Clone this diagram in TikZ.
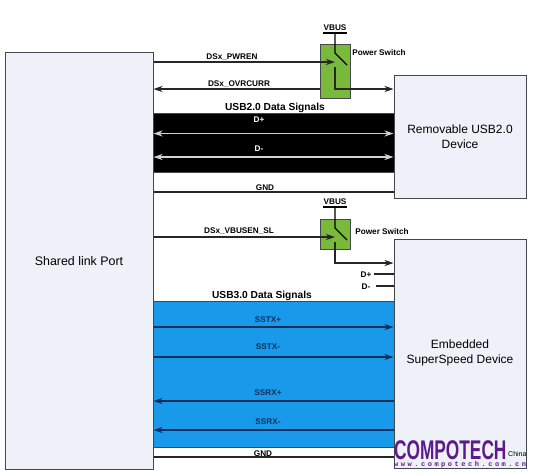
\documentclass[tikz,border=0pt]{standalone}
\usepackage{fontspec}
\setmainfont{Liberation Sans}
\newfontfamily\webfont[LetterSpace=36,BoldFont={Liberation Mono Bold}]{Liberation Mono}
\usetikzlibrary{positioning,arrows.meta,calc}
\definecolor{boxfill}{HTML}{EEF1F8}
\definecolor{boxline}{HTML}{44484C}
\definecolor{swgreen}{HTML}{79B93C}
\definecolor{ssblue}{HTML}{1899E9}
\definecolor{ssink}{HTML}{0E2F5C}
\definecolor{purple}{HTML}{5E1A8C}

\begin{document}
\begin{tikzpicture}[x=1pt, y=-1pt,
        device/.style={draw=boxline, line width=1pt, fill=boxfill, inner sep=0pt, font=\fontsize{12}{15}\selectfont, align=center},
        switchbox/.style={draw=boxline, line width=0.6pt, fill=swgreen, inner sep=0pt},
        band/.style={draw=boxline, line width=0.5pt, inner sep=0pt},
        sig/.style={line width=1.1pt, black!85, arrows={-Stealth[length=9pt, width=6pt]}},
        lab/.style={font=\fontsize{8.2}{10}\selectfont\bfseries, inner sep=0pt, yshift=-0.8pt},
        title/.style={font=\fontsize{10.2}{12}\selectfont\bfseries, inner sep=0pt, yshift=-0.5pt},
      ]
        \useasboundingbox (0,0) rectangle (534,475);
        \fill[white] (0,0) rectangle (534,475);

        % bands go first, boxes sit on top of them
        \node[band, fill=black, minimum width=241pt, minimum height=59pt] (usbband) at (273.5,142.5) {};
        \node[band, fill=ssblue, minimum width=241pt, minimum height=146pt] (ssband) at (273.5,374) {};

        \node[device, minimum width=148pt, minimum height=417pt] (port) at (79,260.5) {};
        \node[font=\fontsize{12.4}{15}\selectfont, inner sep=0pt] (portlab) at (79,261) {Shared link Port};
        \node[device, minimum width=132pt, minimum height=123pt] (removable) at (460,136.5) {Removable USB2.0\\Device};
        \node[device, minimum width=132pt, minimum height=229pt] (embedded) at (460,353.5) {};
        \node[font=\fontsize{12}{15}\selectfont, align=center, inner sep=0pt] (embedlab) at (460,353) {Embedded\\SuperSpeed Device};

        \node[switchbox, minimum width=30pt, minimum height=54pt] (swa) at (335,71) {};
        \node[switchbox, minimum width=30pt, minimum height=30pt] (swb) at (335,234) {};

        % labels
        \node[lab] (vbusa) at (335,27) {VBUS};
        \node[lab] (vbusb) at (335,201) {VBUS};
        \node[lab] (pwa) at (379,52) {Power Switch};
        \node[lab] (pwb) at (382,231) {Power Switch};
        \node[lab] (pwren) at (232,56) {DSx\_PWREN};
        \node[lab] (ovr) at (239,83) {DSx\_OVRCURR};
        \node[lab] (vbusen) at (239,230) {DSx\_VBUSEN\_SL};
        \node[title] (usbtwo) at (275,107) {USB2.0 Data Signals};
        \node[title] (usbthree) at (262,295) {USB3.0 Data Signals};
        \node[lab, white] (dplus) at (259,119) {D+};
        \node[lab, white] (dminus) at (259,148) {D-};
        \node[lab] (gnda) at (265,187) {GND};
        \node[lab] (dplusb) at (366,274) {D+};
        \node[lab] (dminusb) at (366,286) {D-};
        \node[lab, ssink] (txp) at (268,319) {SSTX+};
        \node[lab, ssink] (txm) at (268,346) {SSTX-};
        \node[lab, ssink] (rxp) at (268,392) {SSRX+};
        \node[lab, ssink] (rxm) at (268,421) {SSRX-};
        \node[lab] (gndb) at (263,453) {GND};

        % switch contacts
        \coordinate (cta) at (335,53);
        \coordinate (ctb) at (347,65);
        \coordinate (ctc) at (335,67);
        \coordinate (ctd) at (335,89);
        \coordinate (cte) at (335,228);
        \coordinate (ctf) at (347,240);
        \coordinate (ctg) at (335,242);
        \coordinate (cth) at (335,263);
        \coordinate (barl) at (323,33);
        \coordinate (barr) at (347,33);
        \coordinate (barm) at (335,33);
        \coordinate (bbrl) at (323,207);
        \coordinate (bbrr) at (347,207);
        \coordinate (bbrm) at (335,207);

        \draw[line width=1.1pt] (barl) -- (barr);
        \draw[line width=1.1pt] (barm) -- (cta) -- (ctb);
        \draw[sig] (ctc) -- (ctd) -- (removable.west |- ctd);
        \draw[line width=1.1pt] (bbrl) -- (bbrr);
        \draw[line width=1.1pt] (bbrm) -- (cte) -- (ctf);
        \draw[sig] (ctg) -- (cth) -- (embedded.west |- cth);

        % signal rows
        \coordinate (rpwren) at (0,62);
        \coordinate (rdp) at (0,133.5);
        \coordinate (rdm) at (0,157);
        \coordinate (rgnd) at (0,192);
        \coordinate (rvb) at (0,237);
        \coordinate (rdpb) at (0,274);
        \coordinate (rdmb) at (0,286);
        \coordinate (rtxp) at (0,327);
        \coordinate (rtxm) at (0,357);
        \coordinate (rrxp) at (0,401);
        \coordinate (rrxm) at (0,430);
        \coordinate (rgndb) at (0,457);

        \draw[sig] (port.east |- rpwren) -- (cta |- rpwren);
        \draw[sig] (swa.west |- ctd) -- (port.east |- ctd);
        \draw[sig, black!18, arrows={Stealth[length=9pt, width=6pt]-Stealth[length=9pt, width=6pt]}] (port.east |- rdp) -- (removable.west |- rdp);
        \draw[sig, black!18, arrows={Stealth[length=9pt, width=6pt]-Stealth[length=9pt, width=6pt]}] (port.east |- rdm) -- (removable.west |- rdm);
        \draw[line width=1.4pt, black!85] (port.east |- rgnd) -- (removable.west |- rgnd);
        \draw[sig] (port.east |- rvb) -- (cta |- rvb);
        \draw[line width=1.1pt, black!85] (dplusb.east |- rdpb) ++(2,0) -- (embedded.west |- rdpb);
        \draw[line width=1.1pt, black!85] (dminusb.east |- rdmb) ++(5,0) -- (embedded.west |- rdmb);
        \draw[sig, ssink] (port.east |- rtxp) -- (embedded.west |- rtxp);
        \draw[sig, ssink] (port.east |- rtxm) -- (embedded.west |- rtxm);
        \draw[sig, ssink] (embedded.west |- rrxp) -- (port.east |- rrxp);
        \draw[sig, ssink] (embedded.west |- rrxm) -- (port.east |- rrxm);
        \draw[line width=1.4pt, black!85] (port.east |- rgndb) -- (embedded.west |- rgndb);

        % watermark
        \node[purple, font=\fontsize{27}{28}\selectfont\bfseries, inner sep=0pt, anchor=base west, xscale=0.64] (logo) at (394,459) {COMPOTECH};
        \node[font=\fontsize{7}{8}\selectfont, inner sep=0pt, anchor=west] (china) at (508,454) {China};
        \node[purple, font=\fontsize{7}{8}\selectfont\webfont\bfseries, inner sep=0pt, anchor=west] (web) at (394,465) {www.compotech.com.cn};
      \end{tikzpicture}
\end{document}
